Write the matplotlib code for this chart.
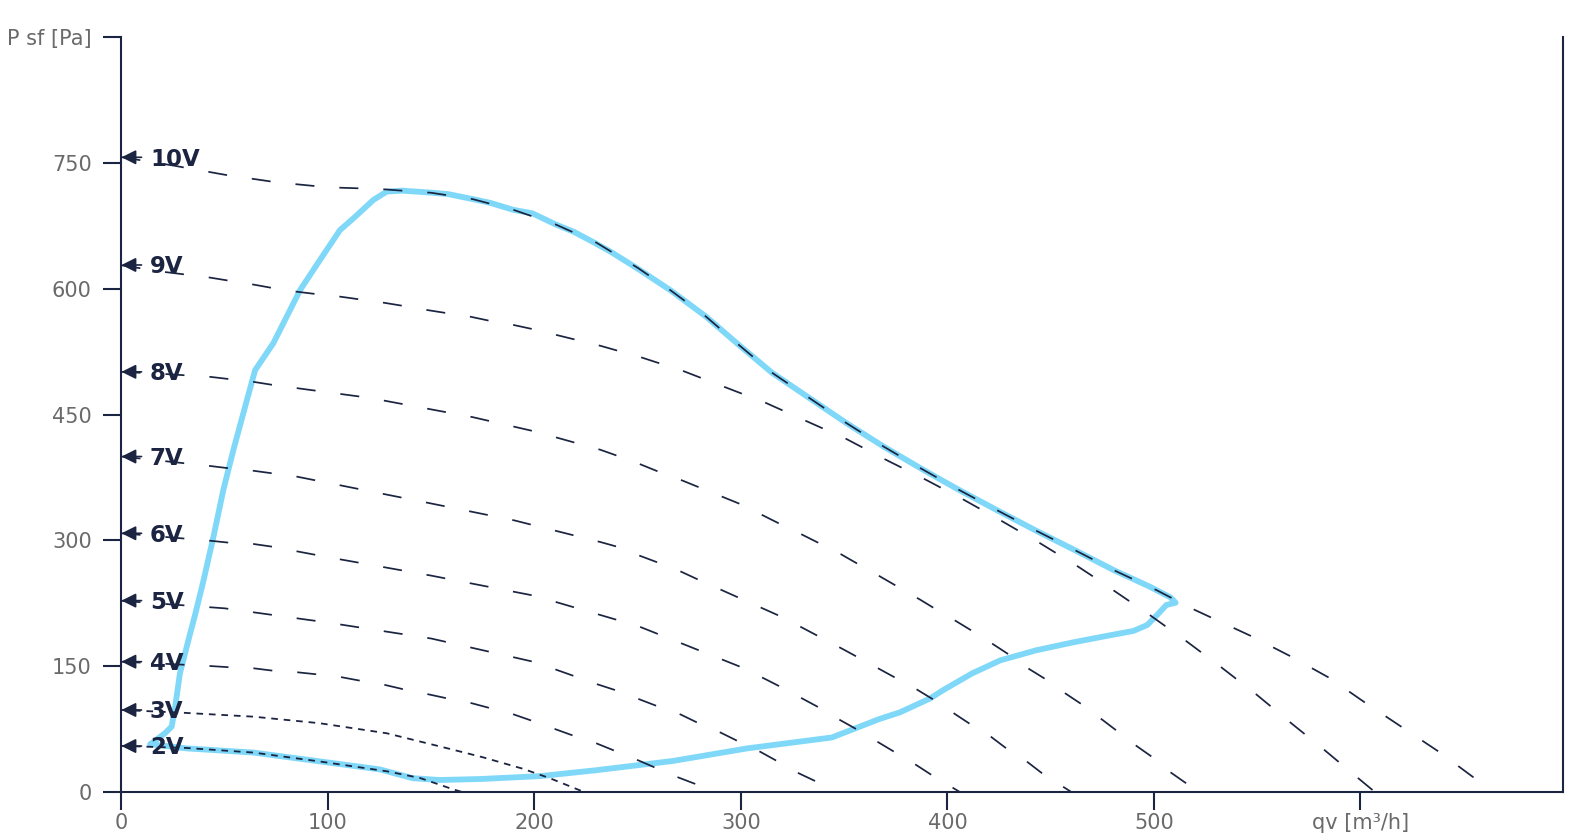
import matplotlib
matplotlib.use("Agg")
import matplotlib.pyplot as plt

plt.rcParams['lines.scale_dashes'] = False
plt.rcParams['font.family'] = ['DejaVu Sans']

NAVY = '#1b2440'
BLUE = '#80d8f9'
GRAY = '#6a6a6a'

# ---------------- data ----------------
x_ticks = [0, 100, 200, 300, 400, 500, 600]
x_tick_labels = ['0', '100', '200', '300', '400', '500', 'qv [m³/h]']
y_ticks = [0, 150, 300, 450, 600, 750, 900]
y_tick_labels = ['0', '150', '300', '450', '600', '750', 'P sf [Pa]']

v10_q = [0, 25, 50, 75, 100, 125, 136, 150, 170, 190, 210, 230, 250, 266, 283, 299, 315, 333, 351,
         369, 387, 405, 424, 443, 462, 481, 501, 519, 547, 566, 585, 602, 620, 638, 655, 662]
v10_p = [757, 747, 736, 727, 721, 719, 717, 714.5, 707, 694, 677, 655, 625, 598, 567, 533, 500, 470, 440,
         412, 386, 361, 336, 311.5, 288, 264, 241, 218, 186, 162, 136, 107, 77.5, 48, 17, 6]

v9_q = [0, 21, 42, 52, 64, 73, 85, 94, 106, 115, 127, 136, 148, 158, 169, 178, 190, 199, 232, 252, 272,
        292, 312, 331, 351, 369.5, 389, 407.5, 426, 444.6, 462.8, 470.7, 498, 515.6, 532.6, 549.5, 566,
        582.6, 599, 607]
v9_p = [628, 620, 613.7, 609.7, 605, 601, 596.5, 593.8, 590.6, 587.5, 583.4, 579.8, 574.7, 570.8, 566.7,
        562, 556.8, 552, 532, 518, 502, 483, 464, 443, 421, 397, 373, 349, 323.5, 297, 269.5, 256.7, 211,
        180, 148.7, 116.5, 83, 50, 16.3, 0]

v8_q = [0, 21, 43, 52, 64, 73.5, 120, 170, 200, 232, 240, 251, 260, 271, 280, 291, 300, 310.5, 318.6,
        329.5, 338, 348.5, 356.7, 367, 387, 393, 404, 412, 421.6, 429.7, 439, 447.4, 457, 465, 474, 482,
        491.5, 499, 508, 515.6, 522]
v8_p = [501, 498.4, 495, 492.4, 489, 485.3, 470, 447, 430, 408, 401, 391, 382, 372, 363, 352, 343, 330,
        320, 307, 296.5, 283.4, 271.8, 257.5, 229, 220, 204, 192, 177, 164, 147.5, 134.7, 117.7, 104.6,
        88, 73, 55, 42, 23.5, 10.4, 0]

v7_q = [0, 43, 52, 64, 73, 85, 150, 190, 232, 240, 251, 260, 271, 279, 320, 350, 385, 393, 403, 411,
        421, 428.5, 438.6, 446, 460]
v7_p = [400, 388.7, 386, 383, 380, 376, 344, 324, 298, 292.5, 281.7, 273.4, 262.7, 253.6, 208.5, 169.5,
        122.5, 110.5, 94, 81, 66, 52, 36, 22, 0]

v6_q = [0, 43, 52, 64, 73, 100, 150, 200, 250, 300, 312.7, 319, 329.5, 337.6, 348, 356, 385, 392.5, 406]
v6_p = [308.5, 299.6, 297.3, 295.7, 292.5, 280, 258, 234, 198, 149, 133.5, 125.6, 111.7, 101, 85.8,
        74.8, 32, 20, 0]

v5_q = [0, 50, 100, 150, 200, 230, 239, 250.4, 259.3, 270.6, 279, 290, 298.4, 309.3, 317.4, 328, 336, 347]
v5_p = [228, 219, 202, 183, 155, 128.8, 121.6, 110.9, 102.5, 92.6, 82.6, 71, 60.8, 48, 37, 22.3, 13, 0]

v4_q = [0, 43, 52.6, 64, 73.5, 85.4, 94.6, 106.7, 115.6, 127.7, 136.5, 148.6, 157.6, 169.7, 178.5,
        189.8, 198.7, 210, 219, 230, 239, 250, 258.5, 269.5, 278, 288]
v4_p = [155.4, 150.2, 148.7, 147.5, 144.6, 142.7, 140.3, 136.8, 132.7, 127.6, 122.5, 116.5, 111.7,
        105.8, 100, 92.6, 85, 75, 67, 58, 49, 38, 29, 17.5, 9.5, 0]

v3_q = [0, 29, 64, 96, 128.5, 158, 175, 194, 207.6, 224]
v3_p = [97.8, 94.6, 89.8, 82, 70, 52, 41.4, 28, 16.3, 0]

v2_q = [0, 31.6, 64, 96, 128.5, 144.6, 160.8, 165]
v2_p = [55, 52.5, 47, 36.4, 24.7, 16.7, 3, 0]

curve_names = ['2V', '3V', '4V', '5V', '6V', '7V', '8V', '9V', '10V']
curve_q = [v2_q, v3_q, v4_q, v5_q, v6_q, v7_q, v8_q, v9_q, v10_q]
curve_p = [v2_p, v3_p, v4_p, v5_p, v6_p, v7_p, v8_p, v9_p, v10_p]
label_p = [54.8, 97.8, 155.4, 228.2, 308.5, 400, 501, 628.4, 756.8]

blue_q = [14, 31.6, 64, 96, 125, 141, 154, 174, 203, 230, 267, 303, 344, 367, 377, 391.7, 398, 412,
          425.6, 443, 461, 479, 490, 496.7, 501.5, 506, 510.5, 508, 498, 481, 462, 443, 424, 405, 387,
          369, 351, 333, 315, 299, 283, 266, 250, 237, 229, 219, 210, 199, 190, 178.5, 170, 158, 148,
          136, 128.5, 122, 112.3, 105.8, 96, 86.5, 73.5, 64.7, 60.7, 54.2, 49.3, 44.5, 39.5, 35.5, 32.4,
          28.3, 26, 24.3, 21, 14]
blue_p = [57, 52, 47, 36.5, 27, 16.5, 14.3, 15.5, 19, 26, 37, 52, 65, 87, 95, 111.7, 121.6, 141.5,
          157, 169, 178.5, 187, 192, 199, 211, 223, 225.7, 232, 244.8, 264, 288, 311.5, 336, 361, 386,
          412, 440, 470, 500, 533, 567, 598, 624, 644, 655, 668, 677, 690, 694, 702.5, 707, 713, 715,
          717, 716, 706, 684, 670, 634, 598.5, 535, 503, 467, 408, 360, 304, 250, 210, 181,
          141.5, 101.7, 78, 70, 57]

# ---------------- figure ----------------
W, H = 1588, 840
fig = plt.figure(figsize=(W / 100, H / 100), dpi=100)
left_px, right_px, bottom_px, top_px = 121.5, 1562.8, 792, 37.2
ax = fig.add_axes([left_px / W, (H - bottom_px) / H, (right_px - left_px) / W, (bottom_px - top_px) / H])
ax.set_xlim(0, 698)
ax.set_ylim(0, 900)

for side in ['left', 'bottom', 'right']:
    ax.spines[side].set_color(NAVY)
    ax.spines[side].set_linewidth(1.5)
ax.spines['top'].set_visible(False)

ax.set_xticks(x_ticks)
ax.set_xticklabels(x_tick_labels)
ax.set_yticks(y_ticks)
ax.set_yticklabels(y_tick_labels)
ax.tick_params(axis='both', direction='out', length=13, width=1.5, color=NAVY,
               labelcolor=GRAY, labelsize=15)
ax.tick_params(axis='y', pad=8.5)
ax.tick_params(axis='x', pad=2)

# blue operating envelope
ax.plot(blue_q, blue_p, color=BLUE, lw=4.2, solid_capstyle='round', solid_joinstyle='round', zorder=2)

# fan curves
for name, q, p in zip(curve_names, curve_q, curve_p):
    if name in ('2V', '3V'):
        ds, lw = (4.8, 4.2), 1.3
    else:
        ds, lw = (13.7, 18), 1.25
    ax.plot(q, p, color=NAVY, lw=lw, dashes=ds, zorder=3)

# arrows and labels
for name, lp in zip(curve_names, label_p):
    ax.annotate('', xy=(0, lp), xytext=(14.4, 0), textcoords='offset points',
                arrowprops=dict(arrowstyle='-|>', color=NAVY, lw=1.2, mutation_scale=22,
                                shrinkA=0, shrinkB=0),
                annotation_clip=False, zorder=5)
    ax.annotate(name, xy=(0, lp), xytext=(20.5, -6), textcoords='offset points',
                ha='left', va='baseline', fontsize=16.5, fontweight='bold', color=NAVY,
                annotation_clip=False, zorder=5)

fig.savefig('out.png', dpi=100)
